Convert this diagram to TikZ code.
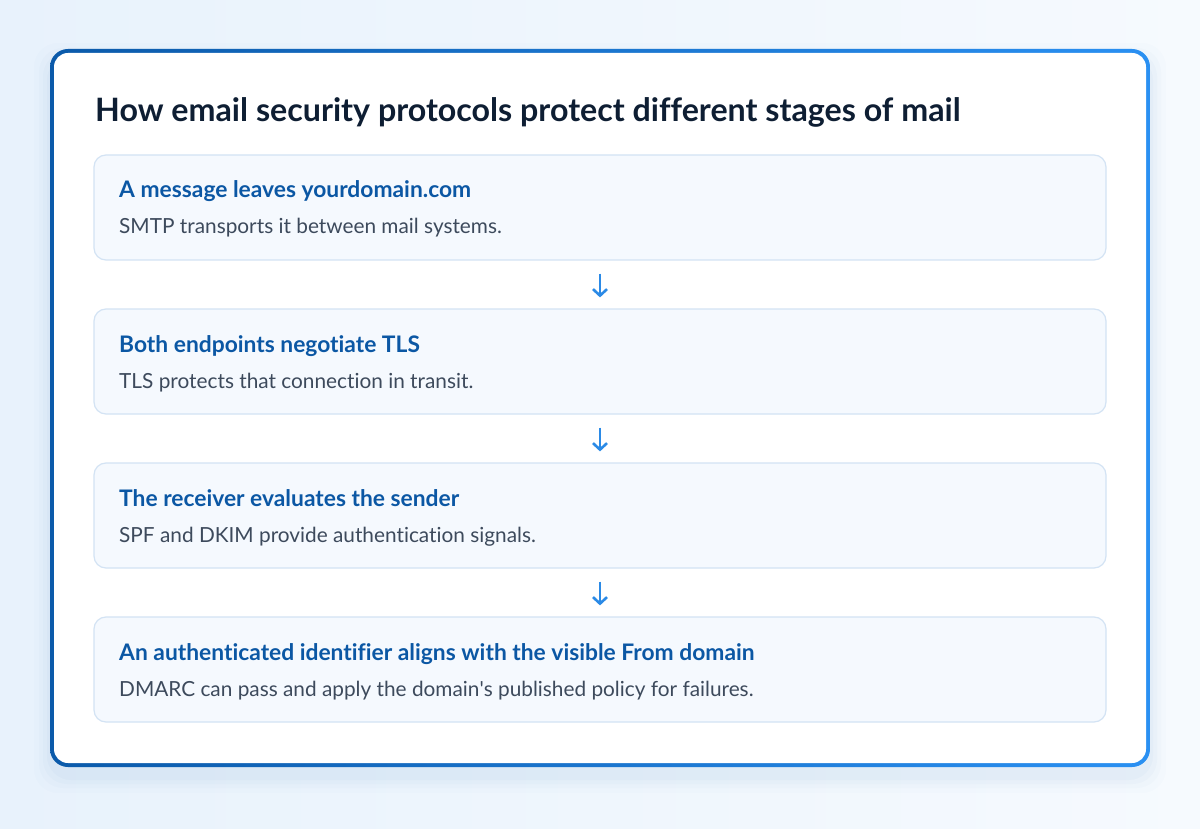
\documentclass[tikz,border=0pt]{standalone}
\usepackage{fontspec}
\setmainfont{Lato}[Ligatures={NoCommon}]
\usetikzlibrary{arrows.meta}
\definecolor{bgA}{HTML}{E8F2FC}
\definecolor{bgB}{HTML}{F6FAFE}
\definecolor{brdA}{HTML}{0B5AAA}
\definecolor{brdB}{HTML}{2A90F2}
\definecolor{titlec}{HTML}{0E1E33}
\definecolor{headc}{HTML}{0B57A4}
\definecolor{bodyc}{HTML}{3D4A5C}
\definecolor{boxfill}{HTML}{F5F9FE}
\definecolor{boxline}{HTML}{D3E3F4}
\definecolor{arrc}{HTML}{2B8AE6}
\tikzset{
  stagebox/.style={draw=boxline, line width=1.2pt, fill=boxfill, rounded corners=12pt,
    minimum width=1012pt, minimum height=105pt, inner sep=0pt},
  headtxt/.style={anchor=base west, inner sep=0pt, text=headc, font=\fontsize{22.8}{27}\selectfont\bfseries},
  bodytxt/.style={anchor=base west, inner sep=0pt, text=bodyc, font=\fontsize{20.8}{25}\selectfont},
  flowarrow/.style={draw=arrc, line width=2.6pt, -{Straight Barb[length=6.5pt,width=14pt,line width=2.6pt]},
    shorten <=13pt, shorten >=11pt}
}
\begin{document}
\begin{tikzpicture}[x=1pt,y=-1pt]
\useasboundingbox (0,0) rectangle (1200,829);
\shade[left color=bgA, right color=bgB] (0,0) rectangle (1200,829);
% soft shadow
\foreach \i/\o in {16/0.012,11/0.016,7/0.02,3/0.025}{
  \fill[brdA, opacity=\o, rounded corners=24pt] (50-\i,49-\i+10) rectangle (1150+\i,767+\i+10);
}
% card border with gradient
\shade[left color=brdA, right color=brdB, rounded corners=18pt] (50,49) rectangle (1150,767);
\fill[white, rounded corners=14pt] (54,53) rectangle (1146,763);
\node[anchor=base west, inner sep=0pt, text=titlec, font=\fontsize{32.2}{38}\selectfont\bfseries] (title) at (95,122) {How email security protocols protect different stages of mail};
\node[stagebox] (b1) at (600,207.5) {};
\node[stagebox] (b2) at (600,361.5) {};
\node[stagebox] (b3) at (600,515.5) {};
\node[stagebox] (b4) at (600,669.5) {};
\node[headtxt] (h1) at (119,198) {A message leaves yourdomain.com};
\node[bodytxt] (t1) at (119,234) {SMTP transports it between mail systems.};
\node[headtxt] (h2) at (119,352) {Both endpoints negotiate TLS};
\node[bodytxt] (t2) at (119,388) {TLS protects that connection in transit.};
\node[headtxt] (h3) at (119,506) {The receiver evaluates the sender};
\node[bodytxt] (t3) at (119,542) {SPF and DKIM provide authentication signals.};
\node[headtxt] (h4) at (119,660) {An authenticated identifier aligns with the visible From domain};
\node[bodytxt] (t4) at (119,696) {DMARC can pass and apply the domain\textquotesingle s published policy for failures.};
\draw[flowarrow] (b1.south) -- (b2.north);
\draw[flowarrow] (b2.south) -- (b3.north);
\draw[flowarrow] (b3.south) -- (b4.north);
\end{tikzpicture}
\end{document}
